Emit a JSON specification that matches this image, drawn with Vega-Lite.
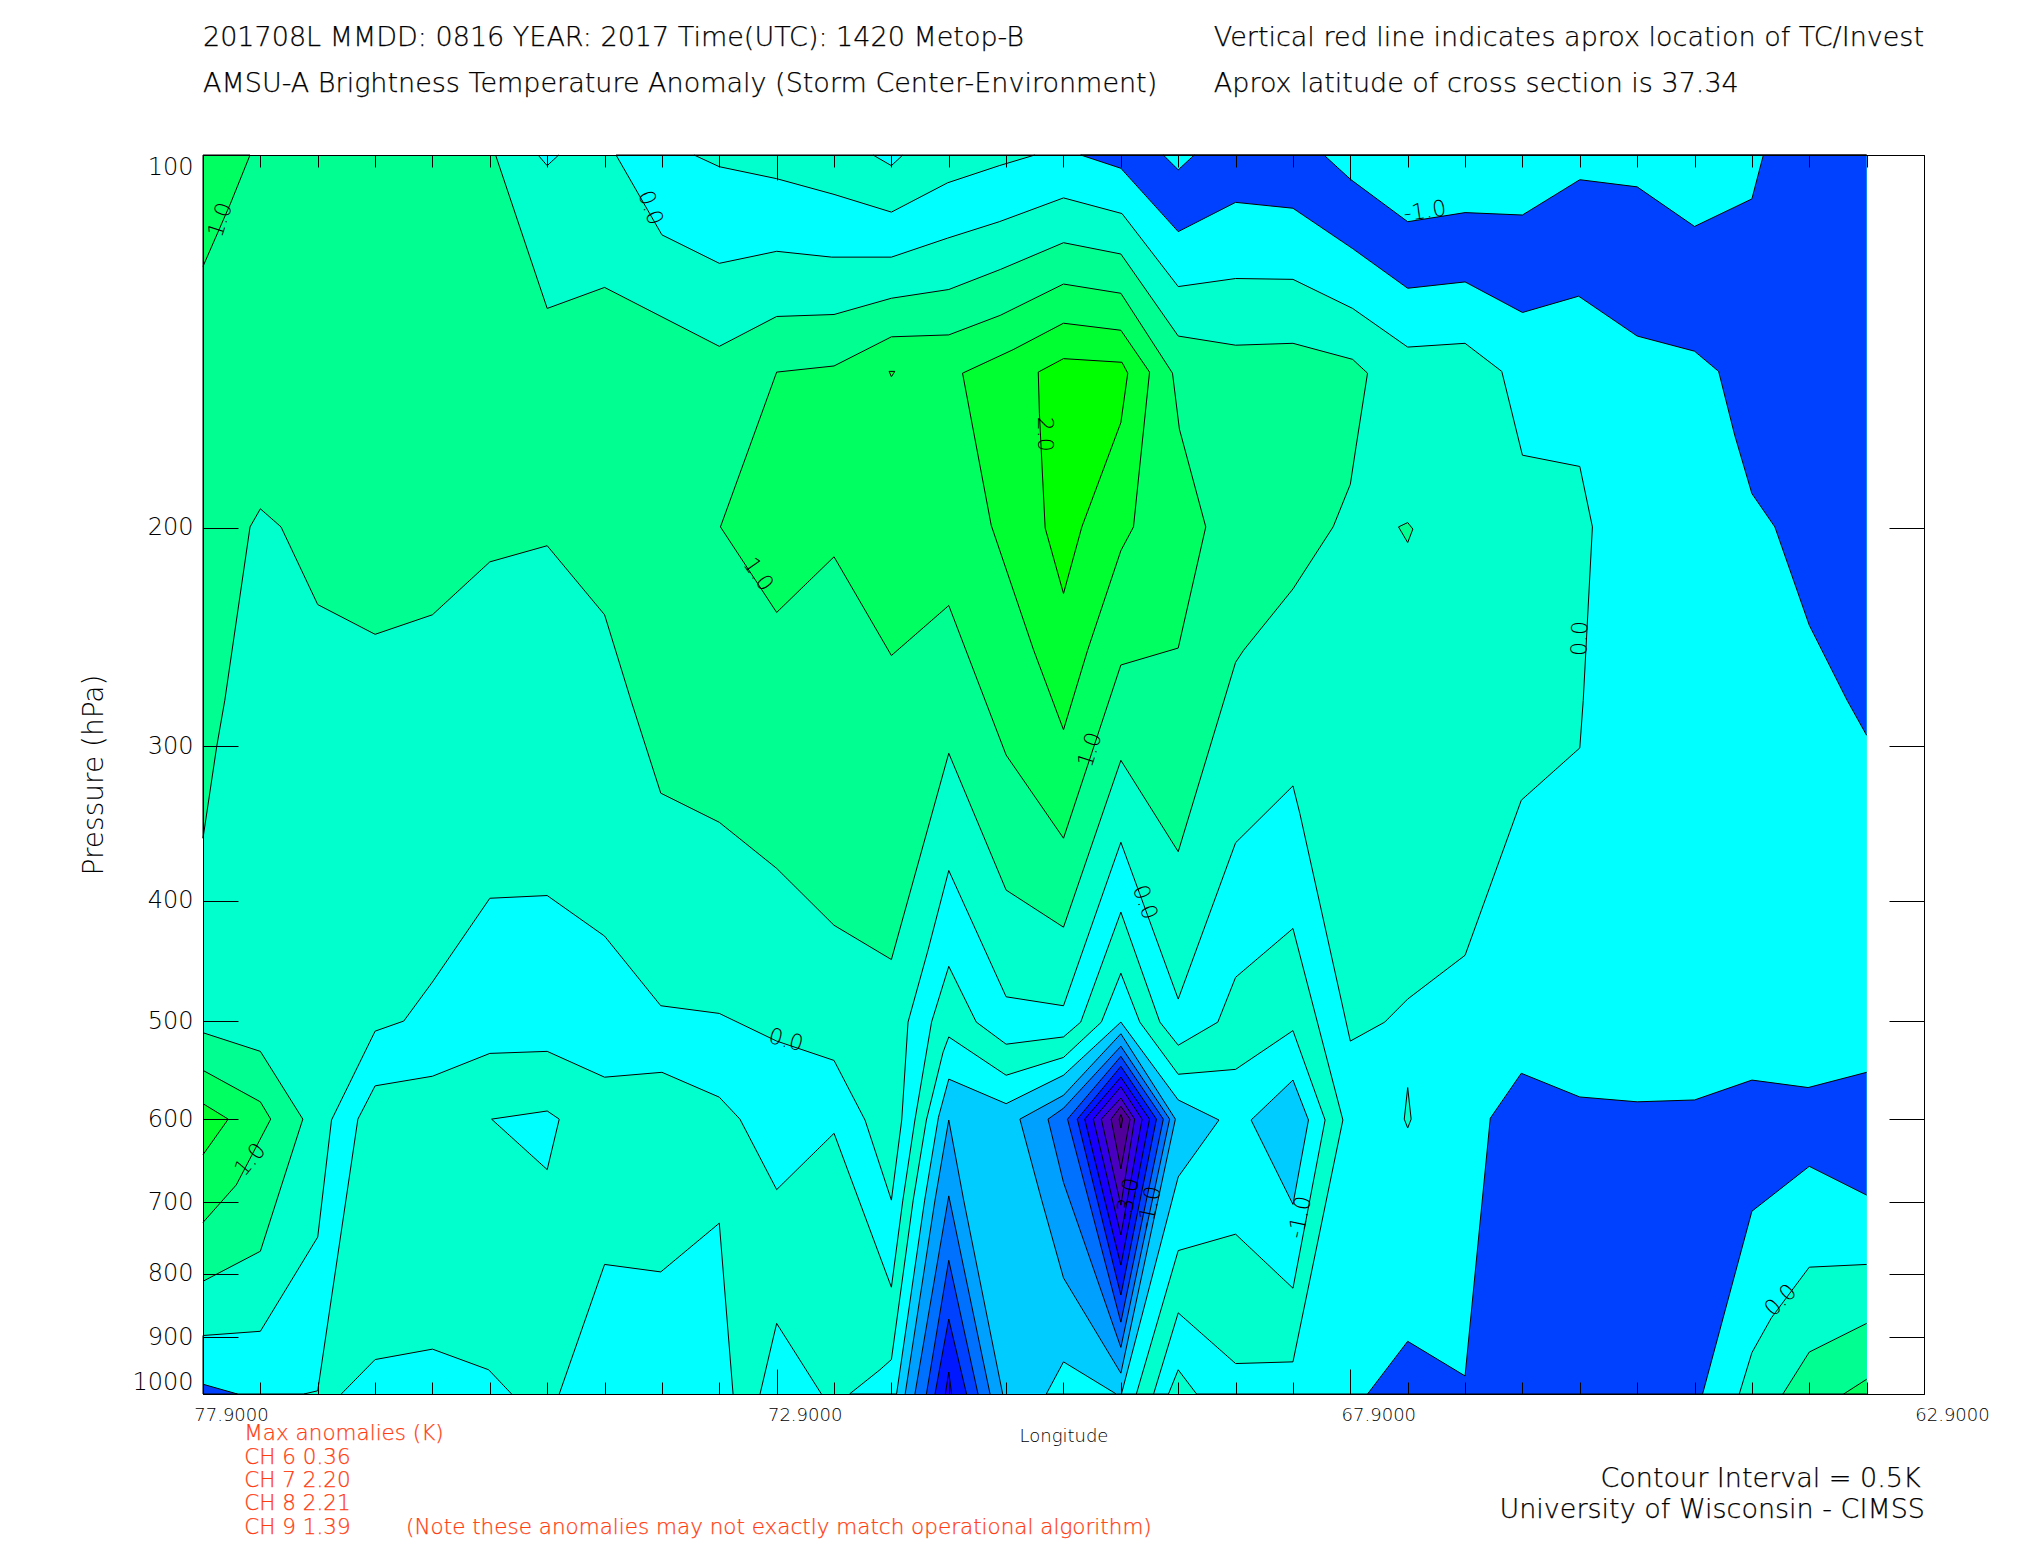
{"$schema":"https://vega.github.io/schema/vega-lite/v6.json","width":1721,"height":1239,"autosize":{"type":"none"},"padding":{"left":203,"top":155,"right":101,"bottom":156},"background":"white","config":{"view":{"stroke":null},"text":{"font":"DejaVu Sans","fontWeight":200}},
"datasets":{"poly":[
{"id":1,"band":"p05","lon":75.35,"hPa":100},{"id":1,"band":"p05","lon":74.9,"hPa":133},{"id":1,"band":"p05","lon":74.4,"hPa":127.9},{"id":1,"band":"p05","lon":73.4,"hPa":142.7},{"id":1,"band":"p05","lon":72.9,"hPa":135},{"id":1,"band":"p05","lon":72.4,"hPa":134.5},{"id":1,"band":"p05","lon":71.9,"hPa":130.5},{"id":1,"band":"p05","lon":71.4,"hPa":128.4},{"id":1,"band":"p05","lon":70.95,"hPa":123.7},{"id":1,"band":"p05","lon":70.4,"hPa":117.7},{"id":1,"band":"p05","lon":69.9,"hPa":120.2},{"id":1,"band":"p05","lon":69.4,"hPa":140},{"id":1,"band":"p05","lon":68.9,"hPa":142.4},{"id":1,"band":"p05","lon":68.4,"hPa":141.9},{"id":1,"band":"p05","lon":67.88,"hPa":146.2},{"id":1,"band":"p05","lon":67.75,"hPa":150},{"id":1,"band":"p05","lon":67.85,"hPa":171.9},{"id":1,"band":"p05","lon":67.9,"hPa":184.4},{"id":1,"band":"p05","lon":68.05,"hPa":199.6},{"id":1,"band":"p05","lon":68.4,"hPa":224},{"id":1,"band":"p05","lon":68.83,"hPa":251},{"id":1,"band":"p05","lon":68.9,"hPa":256.7},{"id":1,"band":"p05","lon":69.4,"hPa":365},{"id":1,"band":"p05","lon":69.9,"hPa":308},{"id":1,"band":"p05","lon":70.4,"hPa":420},{"id":1,"band":"p05","lon":70.9,"hPa":392},{"id":1,"band":"p05","lon":71.4,"hPa":304},{"id":1,"band":"p05","lon":71.9,"hPa":446},{"id":1,"band":"p05","lon":72.4,"hPa":418.5},{"id":1,"band":"p05","lon":72.9,"hPa":376.5},{"id":1,"band":"p05","lon":73.4,"hPa":345.6},{"id":1,"band":"p05","lon":73.91,"hPa":327.4},{"id":1,"band":"p05","lon":74.17,"hPa":275.5},{"id":1,"band":"p05","lon":74.4,"hPa":235},{"id":1,"band":"p05","lon":74.9,"hPa":206.7},{"id":1,"band":"p05","lon":75.4,"hPa":213},{"id":1,"band":"p05","lon":75.9,"hPa":235},{"id":1,"band":"p05","lon":76.4,"hPa":243.7},{"id":1,"band":"p05","lon":76.9,"hPa":230.6},{"id":1,"band":"p05","lon":77.22,"hPa":199.6},{"id":1,"band":"p05","lon":77.4,"hPa":193},{"id":1,"band":"p05","lon":77.49,"hPa":199.6},{"id":1,"band":"p05","lon":77.71,"hPa":275.5},{"id":1,"band":"p05","lon":77.78,"hPa":300},{"id":1,"band":"p05","lon":77.9,"hPa":356},{"id":1,"band":"p05","lon":77.9,"hPa":100},
{"id":2,"band":"p10","lon":77.9,"hPa":100},{"id":2,"band":"p10","lon":77.49,"hPa":100},{"id":2,"band":"p10","lon":77.66,"hPa":109.4},{"id":2,"band":"p10","lon":77.9,"hPa":123},
{"id":3,"band":"p05","lon":67.4,"hPa":198},{"id":3,"band":"p05","lon":67.355,"hPa":200.4},{"id":3,"band":"p05","lon":67.4,"hPa":205.5},{"id":3,"band":"p05","lon":67.48,"hPa":199.6},{"id":3,"band":"p05","lon":67.4,"hPa":198},
{"id":4,"band":"p10","lon":72.9,"hPa":149.7},{"id":4,"band":"p10","lon":72.4,"hPa":148},{"id":4,"band":"p10","lon":71.9,"hPa":140.2},{"id":4,"band":"p10","lon":71.4,"hPa":139.7},{"id":4,"band":"p10","lon":70.95,"hPa":134.7},{"id":4,"band":"p10","lon":70.4,"hPa":127.1},{"id":4,"band":"p10","lon":69.9,"hPa":129.3},{"id":4,"band":"p10","lon":69.45,"hPa":150},{"id":4,"band":"p10","lon":69.39,"hPa":166.4},{"id":4,"band":"p10","lon":69.16,"hPa":199.6},{"id":4,"band":"p10","lon":69.4,"hPa":250},{"id":4,"band":"p10","lon":69.9,"hPa":258},{"id":4,"band":"p10","lon":70.4,"hPa":356},{"id":4,"band":"p10","lon":70.9,"hPa":305},{"id":4,"band":"p10","lon":71.4,"hPa":231},{"id":4,"band":"p10","lon":71.9,"hPa":253.5},{"id":4,"band":"p10","lon":72.4,"hPa":211},{"id":4,"band":"p10","lon":72.9,"hPa":234},{"id":4,"band":"p10","lon":73.39,"hPa":199.6},{"id":4,"band":"p10","lon":72.9,"hPa":149.7},
{"id":5,"band":"p15","lon":71.92,"hPa":149.5},{"id":5,"band":"p15","lon":71.87,"hPa":149.5},{"id":5,"band":"p15","lon":71.9,"hPa":151},{"id":5,"band":"p15","lon":71.92,"hPa":149.5},
{"id":6,"band":"p15","lon":71.28,"hPa":150},{"id":6,"band":"p15","lon":70.84,"hPa":143.6},{"id":6,"band":"p15","lon":70.4,"hPa":136.7},{"id":6,"band":"p15","lon":69.9,"hPa":138.5},{"id":6,"band":"p15","lon":69.65,"hPa":149.7},{"id":6,"band":"p15","lon":69.79,"hPa":199.6},{"id":6,"band":"p15","lon":69.9,"hPa":208.6},{"id":6,"band":"p15","lon":70.19,"hPa":251},{"id":6,"band":"p15","lon":70.4,"hPa":291},{"id":6,"band":"p15","lon":70.66,"hPa":251},{"id":6,"band":"p15","lon":71.03,"hPa":199},{"id":6,"band":"p15","lon":71.28,"hPa":150},
{"id":7,"band":"p20","lon":70.62,"hPa":149.7},{"id":7,"band":"p20","lon":70.4,"hPa":146},{"id":7,"band":"p20","lon":69.89,"hPa":147},{"id":7,"band":"p20","lon":69.84,"hPa":150},{"id":7,"band":"p20","lon":69.9,"hPa":164.4},{"id":7,"band":"p20","lon":70.24,"hPa":199.6},{"id":7,"band":"p20","lon":70.4,"hPa":225.9},{"id":7,"band":"p20","lon":70.56,"hPa":200},{"id":7,"band":"p20","lon":70.61,"hPa":161.6},{"id":7,"band":"p20","lon":70.62,"hPa":149.7},
{"id":8,"band":"p05","lon":77.9,"hPa":511},{"id":8,"band":"p05","lon":77.4,"hPa":529},{"id":8,"band":"p05","lon":77.03,"hPa":600},{"id":8,"band":"p05","lon":77.4,"hPa":767},{"id":8,"band":"p05","lon":77.9,"hPa":811},
{"id":9,"band":"p10","lon":77.9,"hPa":548},{"id":9,"band":"p10","lon":77.4,"hPa":581},{"id":9,"band":"p10","lon":77.31,"hPa":600},{"id":9,"band":"p10","lon":77.61,"hPa":678},{"id":9,"band":"p10","lon":77.9,"hPa":727},
{"id":10,"band":"p15","lon":77.9,"hPa":583},{"id":10,"band":"p15","lon":77.68,"hPa":600},{"id":10,"band":"p15","lon":77.9,"hPa":641},
{"id":11,"band":"m05","lon":63.4,"hPa":100},{"id":11,"band":"m05","lon":74.3,"hPa":100},{"id":11,"band":"m05","lon":73.9,"hPa":116},{"id":11,"band":"m05","lon":73.4,"hPa":122.3},{"id":11,"band":"m05","lon":72.9,"hPa":119.6},{"id":11,"band":"m05","lon":72.42,"hPa":120.9},{"id":11,"band":"m05","lon":71.9,"hPa":120.9},{"id":11,"band":"m05","lon":71.41,"hPa":116.7},{"id":11,"band":"m05","lon":70.96,"hPa":113.2},{"id":11,"band":"m05","lon":70.4,"hPa":108.3},{"id":11,"band":"m05","lon":69.89,"hPa":111.5},{"id":11,"band":"m05","lon":69.4,"hPa":127.7},{"id":11,"band":"m05","lon":68.9,"hPa":125.8},{"id":11,"band":"m05","lon":68.4,"hPa":126},{"id":11,"band":"m05","lon":67.88,"hPa":133},{"id":11,"band":"m05","lon":67.4,"hPa":142.9},{"id":11,"band":"m05","lon":66.9,"hPa":141.9},{"id":11,"band":"m05","lon":66.58,"hPa":149.5},{"id":11,"band":"m05","lon":66.4,"hPa":174.7},{"id":11,"band":"m05","lon":65.9,"hPa":178.4},{"id":11,"band":"m05","lon":65.79,"hPa":199.6},{"id":11,"band":"m05","lon":65.87,"hPa":275.5},{"id":11,"band":"m05","lon":65.9,"hPa":301},{"id":11,"band":"m05","lon":66.41,"hPa":331.7},{"id":11,"band":"m05","lon":66.9,"hPa":442.5},{"id":11,"band":"m05","lon":67.4,"hPa":480},{"id":11,"band":"m05","lon":67.6,"hPa":501},{"id":11,"band":"m05","lon":67.9,"hPa":519},{"id":11,"band":"m05","lon":68.34,"hPa":340},{"id":11,"band":"m05","lon":68.4,"hPa":323},{"id":11,"band":"m05","lon":68.9,"hPa":359},{"id":11,"band":"m05","lon":69.4,"hPa":480},{"id":11,"band":"m05","lon":69.9,"hPa":358.7},{"id":11,"band":"m05","lon":70.4,"hPa":486},{"id":11,"band":"m05","lon":70.9,"hPa":478},{"id":11,"band":"m05","lon":71.4,"hPa":378},{"id":11,"band":"m05","lon":71.58,"hPa":438},{"id":11,"band":"m05","lon":71.755,"hPa":501},{"id":11,"band":"m05","lon":71.81,"hPa":601},{"id":11,"band":"m05","lon":71.9,"hPa":697.5},{"id":11,"band":"m05","lon":72.13,"hPa":601},{"id":11,"band":"m05","lon":72.4,"hPa":538},{"id":11,"band":"m05","lon":72.9,"hPa":519},{"id":11,"band":"m05","lon":73.4,"hPa":493},{"id":11,"band":"m05","lon":73.91,"hPa":486},{"id":11,"band":"m05","lon":74.4,"hPa":427},{"id":11,"band":"m05","lon":74.9,"hPa":396},{"id":11,"band":"m05","lon":75.4,"hPa":398},{"id":11,"band":"m05","lon":75.9,"hPa":465},{"id":11,"band":"m05","lon":76.15,"hPa":500},{"id":11,"band":"m05","lon":76.4,"hPa":509.5},{"id":11,"band":"m05","lon":76.78,"hPa":601},{"id":11,"band":"m05","lon":76.9,"hPa":747},{"id":11,"band":"m05","lon":77.4,"hPa":890},{"id":11,"band":"m05","lon":77.9,"hPa":897},{"id":11,"band":"m05","lon":77.9,"hPa":1000},{"id":11,"band":"m05","lon":63.4,"hPa":1000},
{"id":12,"band":"p00","lon":67.4,"hPa":565.8},{"id":12,"band":"p00","lon":67.37,"hPa":600},{"id":12,"band":"p00","lon":67.4,"hPa":610},{"id":12,"band":"p00","lon":67.43,"hPa":600},{"id":12,"band":"p00","lon":67.4,"hPa":565.8},
{"id":13,"band":"p00","lon":73.62,"hPa":100},{"id":13,"band":"p00","lon":73.4,"hPa":102.2},{"id":13,"band":"p00","lon":72.9,"hPa":104.5},{"id":13,"band":"p00","lon":72.4,"hPa":107.6},{"id":13,"band":"p00","lon":71.9,"hPa":111.2},{"id":13,"band":"p00","lon":71.41,"hPa":105.3},{"id":13,"band":"p00","lon":70.96,"hPa":102},{"id":13,"band":"p00","lon":70.65,"hPa":100},
{"id":14,"band":"m05","lon":74.98,"hPa":100},{"id":14,"band":"m05","lon":74.9,"hPa":102},{"id":14,"band":"m05","lon":74.8,"hPa":100},
{"id":15,"band":"m05","lon":72.06,"hPa":100},{"id":15,"band":"m05","lon":71.9,"hPa":102},{"id":15,"band":"m05","lon":71.8,"hPa":100},
{"id":16,"band":"m25","lon":63.4,"hPa":294},{"id":16,"band":"m25","lon":63.57,"hPa":275.5},{"id":16,"band":"m25","lon":63.9,"hPa":239.6},{"id":16,"band":"m25","lon":64.2,"hPa":199.6},{"id":16,"band":"m25","lon":64.4,"hPa":187.6},{"id":16,"band":"m25","lon":64.55,"hPa":168.3},{"id":16,"band":"m25","lon":64.69,"hPa":149.5},{"id":16,"band":"m25","lon":64.9,"hPa":144},{"id":16,"band":"m25","lon":65.4,"hPa":140},{"id":16,"band":"m25","lon":65.91,"hPa":130},{"id":16,"band":"m25","lon":66.4,"hPa":134},{"id":16,"band":"m25","lon":66.9,"hPa":126.6},{"id":16,"band":"m25","lon":67.4,"hPa":128.1},{"id":16,"band":"m25","lon":67.88,"hPa":119},{"id":16,"band":"m25","lon":68.4,"hPa":110.4},{"id":16,"band":"m25","lon":68.9,"hPa":109.2},{"id":16,"band":"m25","lon":69.4,"hPa":115.3},{"id":16,"band":"m25","lon":69.9,"hPa":102.5},{"id":16,"band":"m25","lon":70.25,"hPa":100},{"id":16,"band":"m25","lon":63.4,"hPa":100},
{"id":17,"band":"m05","lon":68.13,"hPa":100},{"id":17,"band":"m05","lon":67.9,"hPa":104.6},{"id":17,"band":"m05","lon":67.4,"hPa":113.2},{"id":17,"band":"m05","lon":66.9,"hPa":111.3},{"id":17,"band":"m05","lon":66.4,"hPa":111.8},{"id":17,"band":"m05","lon":65.9,"hPa":104.7},{"id":17,"band":"m05","lon":65.4,"hPa":106.1},{"id":17,"band":"m05","lon":64.9,"hPa":114.2},{"id":17,"band":"m05","lon":64.4,"hPa":108.5},{"id":17,"band":"m05","lon":64.3,"hPa":100},
{"id":18,"band":"m05","lon":69.53,"hPa":100},{"id":18,"band":"m05","lon":69.4,"hPa":102.8},{"id":18,"band":"m05","lon":69.26,"hPa":100},
{"id":19,"band":"m25","lon":63.4,"hPa":550},{"id":19,"band":"m25","lon":63.91,"hPa":565.8},{"id":19,"band":"m25","lon":64.4,"hPa":558},{"id":19,"band":"m25","lon":64.9,"hPa":579},{"id":19,"band":"m25","lon":65.4,"hPa":581},{"id":19,"band":"m25","lon":65.9,"hPa":575.8},{"id":19,"band":"m25","lon":66.41,"hPa":551},{"id":19,"band":"m25","lon":66.68,"hPa":599},{"id":19,"band":"m25","lon":66.9,"hPa":967},{"id":19,"band":"m25","lon":67.4,"hPa":906.7},{"id":19,"band":"m25","lon":67.75,"hPa":1000},{"id":19,"band":"m25","lon":64.83,"hPa":1000},{"id":19,"band":"m25","lon":64.4,"hPa":712},{"id":19,"band":"m25","lon":63.9,"hPa":655},{"id":19,"band":"m25","lon":63.4,"hPa":691},
{"id":20,"band":"p00","lon":63.4,"hPa":786},{"id":20,"band":"p00","lon":63.9,"hPa":790},{"id":20,"band":"p00","lon":64.23,"hPa":868},{"id":20,"band":"p00","lon":64.4,"hPa":926},{"id":20,"band":"p00","lon":64.51,"hPa":1000},{"id":20,"band":"p00","lon":63.4,"hPa":1000},
{"id":21,"band":"p05","lon":63.4,"hPa":877},{"id":21,"band":"p05","lon":63.9,"hPa":925},{"id":21,"band":"p05","lon":64.13,"hPa":1000},{"id":21,"band":"p05","lon":63.4,"hPa":1000},
{"id":22,"band":"p10","lon":63.4,"hPa":973},{"id":22,"band":"p10","lon":63.6,"hPa":1000},{"id":22,"band":"p10","lon":63.4,"hPa":1000},
{"id":23,"band":"m25","lon":77.9,"hPa":982},{"id":23,"band":"m25","lon":77.6,"hPa":1000},{"id":23,"band":"m25","lon":77.9,"hPa":1000},
{"id":24,"band":"p00","lon":77.02,"hPa":1000},{"id":24,"band":"p00","lon":76.9,"hPa":994},{"id":24,"band":"p00","lon":76.55,"hPa":600},{"id":24,"band":"p00","lon":76.4,"hPa":564},{"id":24,"band":"p00","lon":75.9,"hPa":554},{"id":24,"band":"p00","lon":75.4,"hPa":531},{"id":24,"band":"p00","lon":74.9,"hPa":529},{"id":24,"band":"p00","lon":74.4,"hPa":555},{"id":24,"band":"p00","lon":73.9,"hPa":550},{"id":24,"band":"p00","lon":73.4,"hPa":576},{"id":24,"band":"p00","lon":73.22,"hPa":600},{"id":24,"band":"p00","lon":72.9,"hPa":684},{"id":24,"band":"p00","lon":72.4,"hPa":616},{"id":24,"band":"p00","lon":71.9,"hPa":820},{"id":24,"band":"p00","lon":71.8,"hPa":697.5},{"id":24,"band":"p00","lon":71.695,"hPa":601},{"id":24,"band":"p00","lon":71.55,"hPa":501},{"id":24,"band":"p00","lon":71.4,"hPa":451.7},{"id":24,"band":"p00","lon":71.16,"hPa":501},{"id":24,"band":"p00","lon":70.9,"hPa":522},{"id":24,"band":"p00","lon":70.4,"hPa":515},{"id":24,"band":"p00","lon":70.25,"hPa":501},{"id":24,"band":"p00","lon":69.9,"hPa":408.4},{"id":24,"band":"p00","lon":69.56,"hPa":501},{"id":24,"band":"p00","lon":69.4,"hPa":523},{"id":24,"band":"p00","lon":69.055,"hPa":501},{"id":24,"band":"p00","lon":68.9,"hPa":461},{"id":24,"band":"p00","lon":68.4,"hPa":421},{"id":24,"band":"p00","lon":67.965,"hPa":601},{"id":24,"band":"p00","lon":68.4,"hPa":942},{"id":24,"band":"p00","lon":68.9,"hPa":945},{"id":24,"band":"p00","lon":69.4,"hPa":860},{"id":24,"band":"p00","lon":69.615,"hPa":1000},{"id":24,"band":"p00","lon":69.765,"hPa":1000},{"id":24,"band":"p00","lon":69.4,"hPa":766},{"id":24,"band":"p00","lon":68.9,"hPa":743},{"id":24,"band":"p00","lon":68.4,"hPa":821.5},{"id":24,"band":"p00","lon":68.12,"hPa":601},{"id":24,"band":"p00","lon":68.4,"hPa":509},{"id":24,"band":"p00","lon":68.9,"hPa":547},{"id":24,"band":"p00","lon":69.4,"hPa":552},{"id":24,"band":"p00","lon":69.735,"hPa":501},{"id":24,"band":"p00","lon":69.9,"hPa":457.5},{"id":24,"band":"p00","lon":70.07,"hPa":501},{"id":24,"band":"p00","lon":70.4,"hPa":535},{"id":24,"band":"p00","lon":70.9,"hPa":553},{"id":24,"band":"p00","lon":71.4,"hPa":515},{"id":24,"band":"p00","lon":71.45,"hPa":530},{"id":24,"band":"p00","lon":71.595,"hPa":601},{"id":24,"band":"p00","lon":71.71,"hPa":697.5},{"id":24,"band":"p00","lon":71.9,"hPa":938},{"id":24,"band":"p00","lon":72,"hPa":956},{"id":24,"band":"p00","lon":72.265,"hPa":1000},
{"id":25,"band":"m05","lon":76.695,"hPa":1000},{"id":25,"band":"m05","lon":76.4,"hPa":938},{"id":25,"band":"m05","lon":75.9,"hPa":920},{"id":25,"band":"m05","lon":75.41,"hPa":956},{"id":25,"band":"m05","lon":75.21,"hPa":1000},
{"id":26,"band":"m05","lon":74.795,"hPa":1000},{"id":26,"band":"m05","lon":74.4,"hPa":786},{"id":26,"band":"m05","lon":73.91,"hPa":797},{"id":26,"band":"m05","lon":73.4,"hPa":728},{"id":26,"band":"m05","lon":73.28,"hPa":1000},
{"id":27,"band":"m05","lon":73.045,"hPa":1000},{"id":27,"band":"m05","lon":72.9,"hPa":877},{"id":27,"band":"m05","lon":72.51,"hPa":1000},
{"id":28,"band":"m05","lon":75.385,"hPa":600},{"id":28,"band":"m05","lon":74.9,"hPa":591},{"id":28,"band":"m05","lon":74.795,"hPa":600},{"id":28,"band":"m05","lon":74.9,"hPa":659},{"id":28,"band":"m05","lon":75.385,"hPa":600},
{"id":29,"band":"p00","lon":69.485,"hPa":1000},{"id":29,"band":"p00","lon":69.4,"hPa":956},{"id":29,"band":"p00","lon":69.24,"hPa":1000},
{"id":30,"band":"m10","lon":71.855,"hPa":1000},{"id":30,"band":"m10","lon":71.61,"hPa":697.5},{"id":30,"band":"m10","lon":71.49,"hPa":598},{"id":30,"band":"m10","lon":71.4,"hPa":557},{"id":30,"band":"m10","lon":70.9,"hPa":583},{"id":30,"band":"m10","lon":70.4,"hPa":553},{"id":30,"band":"m10","lon":69.9,"hPa":501},{"id":30,"band":"m10","lon":69.4,"hPa":579},{"id":30,"band":"m10","lon":69.045,"hPa":601},{"id":30,"band":"m10","lon":69.4,"hPa":668},{"id":30,"band":"m10","lon":69.895,"hPa":1000},{"id":30,"band":"m10","lon":69.94,"hPa":1000},{"id":30,"band":"m10","lon":70.4,"hPa":942},{"id":30,"band":"m10","lon":70.55,"hPa":1000},
{"id":31,"band":"m10","lon":68.765,"hPa":601},{"id":31,"band":"m10","lon":68.4,"hPa":558},{"id":31,"band":"m10","lon":68.265,"hPa":601},{"id":31,"band":"m10","lon":68.4,"hPa":703},{"id":31,"band":"m10","lon":68.765,"hPa":601},
{"id":32,"band":"m15","lon":71.78,"hPa":1000},{"id":32,"band":"m15","lon":71.52,"hPa":697.5},{"id":32,"band":"m15","lon":71.4,"hPa":601},{"id":32,"band":"m15","lon":71.27,"hPa":697.5},{"id":32,"band":"m15","lon":70.93,"hPa":1000},
{"id":33,"band":"m20","lon":71.695,"hPa":1000},{"id":33,"band":"m20","lon":71.4,"hPa":692},{"id":33,"band":"m20","lon":71.04,"hPa":1000},
{"id":34,"band":"m25","lon":71.595,"hPa":1000},{"id":34,"band":"m25","lon":71.4,"hPa":780},{"id":34,"band":"m25","lon":71.145,"hPa":1000},
{"id":35,"band":"m30","lon":71.52,"hPa":1000},{"id":35,"band":"m30","lon":71.4,"hPa":870},{"id":35,"band":"m30","lon":71.245,"hPa":1000},
{"id":36,"band":"m35","lon":71.43,"hPa":1000},{"id":36,"band":"m35","lon":71.4,"hPa":960},{"id":36,"band":"m35","lon":71.375,"hPa":1000},
{"id":37,"band":"m15","lon":70.78,"hPa":600},{"id":37,"band":"m15","lon":70.4,"hPa":574},{"id":37,"band":"m15","lon":69.9,"hPa":512},{"id":37,"band":"m15","lon":69.425,"hPa":600},{"id":37,"band":"m15","lon":69.9,"hPa":962},{"id":37,"band":"m15","lon":70.4,"hPa":806},{"id":37,"band":"m15","lon":70.59,"hPa":697.5},{"id":37,"band":"m15","lon":70.78,"hPa":600},
{"id":38,"band":"m20","lon":70.535,"hPa":600},{"id":38,"band":"m20","lon":70.4,"hPa":588},{"id":38,"band":"m20","lon":69.9,"hPa":524},{"id":38,"band":"m20","lon":69.475,"hPa":600},{"id":38,"band":"m20","lon":69.9,"hPa":917},{"id":38,"band":"m20","lon":70.4,"hPa":675},{"id":38,"band":"m20","lon":70.535,"hPa":600},
{"id":39,"band":"m25","lon":70.365,"hPa":600},{"id":39,"band":"m25","lon":69.9,"hPa":534},{"id":39,"band":"m25","lon":69.53,"hPa":600},{"id":39,"band":"m25","lon":69.9,"hPa":875},{"id":39,"band":"m25","lon":70.365,"hPa":600},
{"id":40,"band":"m30","lon":70.28,"hPa":600},{"id":40,"band":"m30","lon":69.9,"hPa":544},{"id":40,"band":"m30","lon":69.59,"hPa":600},{"id":40,"band":"m30","lon":69.9,"hPa":832},{"id":40,"band":"m30","lon":70.28,"hPa":600},
{"id":41,"band":"m35","lon":70.215,"hPa":600},{"id":41,"band":"m35","lon":69.9,"hPa":555},{"id":41,"band":"m35","lon":69.65,"hPa":600},{"id":41,"band":"m35","lon":69.9,"hPa":787},{"id":41,"band":"m35","lon":70.215,"hPa":600},
{"id":42,"band":"m40","lon":70.14,"hPa":600},{"id":42,"band":"m40","lon":69.9,"hPa":565},{"id":42,"band":"m40","lon":69.715,"hPa":600},{"id":42,"band":"m40","lon":69.9,"hPa":744},{"id":42,"band":"m40","lon":70.14,"hPa":600},
{"id":43,"band":"m45","lon":70.07,"hPa":600},{"id":43,"band":"m45","lon":69.9,"hPa":577},{"id":43,"band":"m45","lon":69.78,"hPa":600},{"id":43,"band":"m45","lon":69.9,"hPa":704},{"id":43,"band":"m45","lon":70.07,"hPa":600},
{"id":44,"band":"m50","lon":69.985,"hPa":600},{"id":44,"band":"m50","lon":69.9,"hPa":586},{"id":44,"band":"m50","lon":69.82,"hPa":600},{"id":44,"band":"m50","lon":69.9,"hPa":658},{"id":44,"band":"m50","lon":69.985,"hPa":600},
{"id":45,"band":"m55","lon":69.915,"hPa":600},{"id":45,"band":"m55","lon":69.9,"hPa":595},{"id":45,"band":"m55","lon":69.885,"hPa":600},{"id":45,"band":"m55","lon":69.9,"hPa":610},{"id":45,"band":"m55","lon":69.915,"hPa":600}
]},
"layer":[
{"data":{"values":[{"lon":63.4,"hPa":100},{"lon":77.9,"hPa":100},{"lon":77.9,"hPa":1000},{"lon":63.4,"hPa":1000}]},"mark":{"type":"line","fill":"#00ffcc","strokeOpacity":0},
"encoding":{"order":{"value":null},
"x":{"field":"lon","type":"quantitative","scale":{"domain":[77.9,62.9],"nice":false,"zero":false},
"axis":{"orient":"bottom","zindex":1,"grid":false,"domainColor":"black","tickColor":"black","values":[77.9,77.4,76.9,76.4,75.9,75.4,74.9,74.4,73.9,73.4,72.9,72.4,71.9,71.4,70.9,70.4,69.9,69.4,68.9,68.4,67.9,67.4,66.9,66.4,65.9,65.4,64.9,64.4,63.9,63.4,62.9],"tickSize":{"condition":{"test":"indexof([77.9,72.9,67.9,62.9],datum.value)>=0","value":-25},"value":-12},"labelExpr":"indexof([77.9,72.9,67.9,62.9],datum.value)>=0?format(datum.value,'.4f'):''","labelOverlap":false,"labelBound":false,"labelFlush":false,"labelOffset":28,"labelFont":"DejaVu Sans","labelFontWeight":200,"labelFontSize":18,"labelColor":"black","labelPadding":37,"title":"Longitude","titleFont":"DejaVu Sans","titleFontWeight":200,"titleFontSize":18,"titleColor":"black","titlePadding":-10}},
"y":{"field":"hPa","type":"quantitative","scale":{"type":"log","domain":[100,1000],"nice":false,"reverse":true},
"axis":{"orient":"left","zindex":1,"grid":false,"domainColor":"black","tickColor":"black","values":[100,200,300,400,500,600,700,800,900,1000],"tickSize":-35,"format":"d","labelOverlap":false,"labelBound":false,"labelFlush":true,"labelFont":"DejaVu Sans","labelFontWeight":200,"labelFontSize":24,"labelColor":"black","labelPadding":45,"title":"Pressure (hPa)","titleFont":"DejaVu Sans","titleFontWeight":200,"titleFontSize":28,"titleColor":"black","titlePadding":23}}}},
{"data":{"name":"poly"},"mark":{"type":"line","stroke":"black","strokeWidth":1},
"encoding":{"order":{"value":null},"detail":{"field":"id"},"x":{"field":"lon","type":"quantitative","axis":null},"y":{"field":"hPa","type":"quantitative","axis":null},
"fill":{"field":"band","type":"nominal","legend":null,"scale":{"domain":["p20","p15","p10","p05","p00","m05","m10","m15","m20","m25","m30","m35","m40","m45","m50","m55"],"range":["#00ff00","#00ff30","#00ff60","#00ff90","#00ffcc","#00ffff","#00ccff","#00a0ff","#0070ff","#0040ff","#0018ff","#1800ff","#3000e8","#4a00c0","#500098","#500070"]}}}},
{"data":{"values":[{"t":"1.0","lon":77.75,"hPa":112.8},{"t":"1.0","lon":70.17,"hPa":302}]},"mark":{"type":"text","angle":-72,"fontSize":22,"color":"black"},"encoding":{"text":{"field":"t"},"x":{"field":"lon","type":"quantitative","axis":null},"y":{"field":"hPa","type":"quantitative","axis":null}}},
{"data":{"values":[{"t":"0.0","lon":74.0,"hPa":110.3},{"t":"0.0","lon":69.69,"hPa":401}]},"mark":{"type":"text","angle":70,"fontSize":22,"color":"black"},"encoding":{"text":{"field":"t"},"x":{"field":"lon","type":"quantitative","axis":null},"y":{"field":"hPa","type":"quantitative","axis":null}}},
{"data":{"values":[{"t":"-1.0","lon":67.25,"hPa":111}]},"mark":{"type":"text","angle":-8,"fontSize":22,"color":"black"},"encoding":{"text":{"field":"t"},"x":{"field":"lon","type":"quantitative","axis":null},"y":{"field":"hPa","type":"quantitative","axis":null}}},
{"data":{"values":[{"t":"2.0","lon":70.56,"hPa":168}]},"mark":{"type":"text","angle":90,"fontSize":22,"color":"black"},"encoding":{"text":{"field":"t"},"x":{"field":"lon","type":"quantitative","axis":null},"y":{"field":"hPa","type":"quantitative","axis":null}}},
{"data":{"values":[{"t":"1.0","lon":73.06,"hPa":218}]},"mark":{"type":"text","angle":55,"fontSize":22,"color":"black"},"encoding":{"text":{"field":"t"},"x":{"field":"lon","type":"quantitative","axis":null},"y":{"field":"hPa","type":"quantitative","axis":null}}},
{"data":{"values":[{"t":"0.0","lon":65.9,"hPa":245.6}]},"mark":{"type":"text","angle":-88,"fontSize":22,"color":"black"},"encoding":{"text":{"field":"t"},"x":{"field":"lon","type":"quantitative","axis":null},"y":{"field":"hPa","type":"quantitative","axis":null}}},
{"data":{"values":[{"t":"0.0","lon":72.82,"hPa":518}]},"mark":{"type":"text","angle":15,"fontSize":22,"color":"black"},"encoding":{"text":{"field":"t"},"x":{"field":"lon","type":"quantitative","axis":null},"y":{"field":"hPa","type":"quantitative","axis":null}}},
{"data":{"values":[{"t":"1.0","lon":77.49,"hPa":647}]},"mark":{"type":"text","angle":-50,"fontSize":22,"color":"black"},"encoding":{"text":{"field":"t"},"x":{"field":"lon","type":"quantitative","axis":null},"y":{"field":"hPa","type":"quantitative","axis":null}}},
{"data":{"values":[{"t":"-1.0","lon":68.34,"hPa":720},{"t":"-3.0","lon":69.84,"hPa":696},{"t":"-1.0","lon":69.65,"hPa":707}]},"mark":{"type":"text","angle":-78,"fontSize":22,"color":"black"},"encoding":{"text":{"field":"t"},"x":{"field":"lon","type":"quantitative","axis":null},"y":{"field":"hPa","type":"quantitative","axis":null}}},
{"data":{"values":[{"t":"0.0","lon":64.15,"hPa":840}]},"mark":{"type":"text","angle":-45,"fontSize":22,"color":"black"},"encoding":{"text":{"field":"t"},"x":{"field":"lon","type":"quantitative","axis":null},"y":{"field":"hPa","type":"quantitative","axis":null}}},
{"data":{"values":[{"t":"201708L  MMDD: 0816 YEAR: 2017 Time(UTC): 1420 Metop-B","lon":77.9,"hPa":80.4},{"t":"AMSU-A Brightness Temperature Anomaly (Storm Center-Environment)","lon":77.9,"hPa":87.6},{"t":"Vertical red line indicates aprox location of TC/Invest","lon":69.09,"hPa":80.4},{"t":"Aprox latitude of cross section is 37.34","lon":69.09,"hPa":87.6},{"t":"Contour Interval = 0.5K","lon":65.72,"hPa":1171},{"t":"University of Wisconsin - CIMSS","lon":66.6,"hPa":1241}]},"mark":{"type":"text","align":"left","baseline":"middle","fontSize":27,"color":"black","stroke":"black","strokeWidth":0.25},"encoding":{"text":{"field":"t"},"x":{"field":"lon","type":"quantitative","axis":null},"y":{"field":"hPa","type":"quantitative","axis":null}}},
{"data":{"values":[{"t":"Max anomalies (K)","lon":77.54,"hPa":1077},{"t":"CH 6  0.36","lon":77.54,"hPa":1126},{"t":"CH 7  2.20","lon":77.54,"hPa":1175},{"t":"CH 8  2.21","lon":77.54,"hPa":1227},{"t":"CH 9  1.39","lon":77.54,"hPa":1282},{"t":"(Note these anomalies may not exactly match operational algorithm)","lon":76.13,"hPa":1282}]},"mark":{"type":"text","align":"left","baseline":"middle","fontSize":21.5,"color":"#ff3c10","stroke":"#ff3c10","strokeWidth":0.25},"encoding":{"text":{"field":"t"},
"x":{"field":"lon","type":"quantitative","axis":{"orient":"top","zindex":1,"grid":false,"domainColor":"black","tickColor":"black","labels":false,"title":null,"values":[77.9,77.4,76.9,76.4,75.9,75.4,74.9,74.4,73.9,73.4,72.9,72.4,71.9,71.4,70.9,70.4,69.9,69.4,68.9,68.4,67.9,67.4,66.9,66.4,65.9,65.4,64.9,64.4,63.9,63.4,62.9],"tickSize":{"condition":{"test":"indexof([77.9,72.9,67.9,62.9],datum.value)>=0","value":-25},"value":-12}}},
"y":{"field":"hPa","type":"quantitative","axis":{"orient":"right","zindex":1,"grid":false,"domainColor":"black","tickColor":"black","labels":false,"title":null,"values":[100,200,300,400,500,600,700,800,900,1000],"tickSize":-35}}}}
],
"resolve":{"axis":{"x":"independent","y":"independent"}}}
